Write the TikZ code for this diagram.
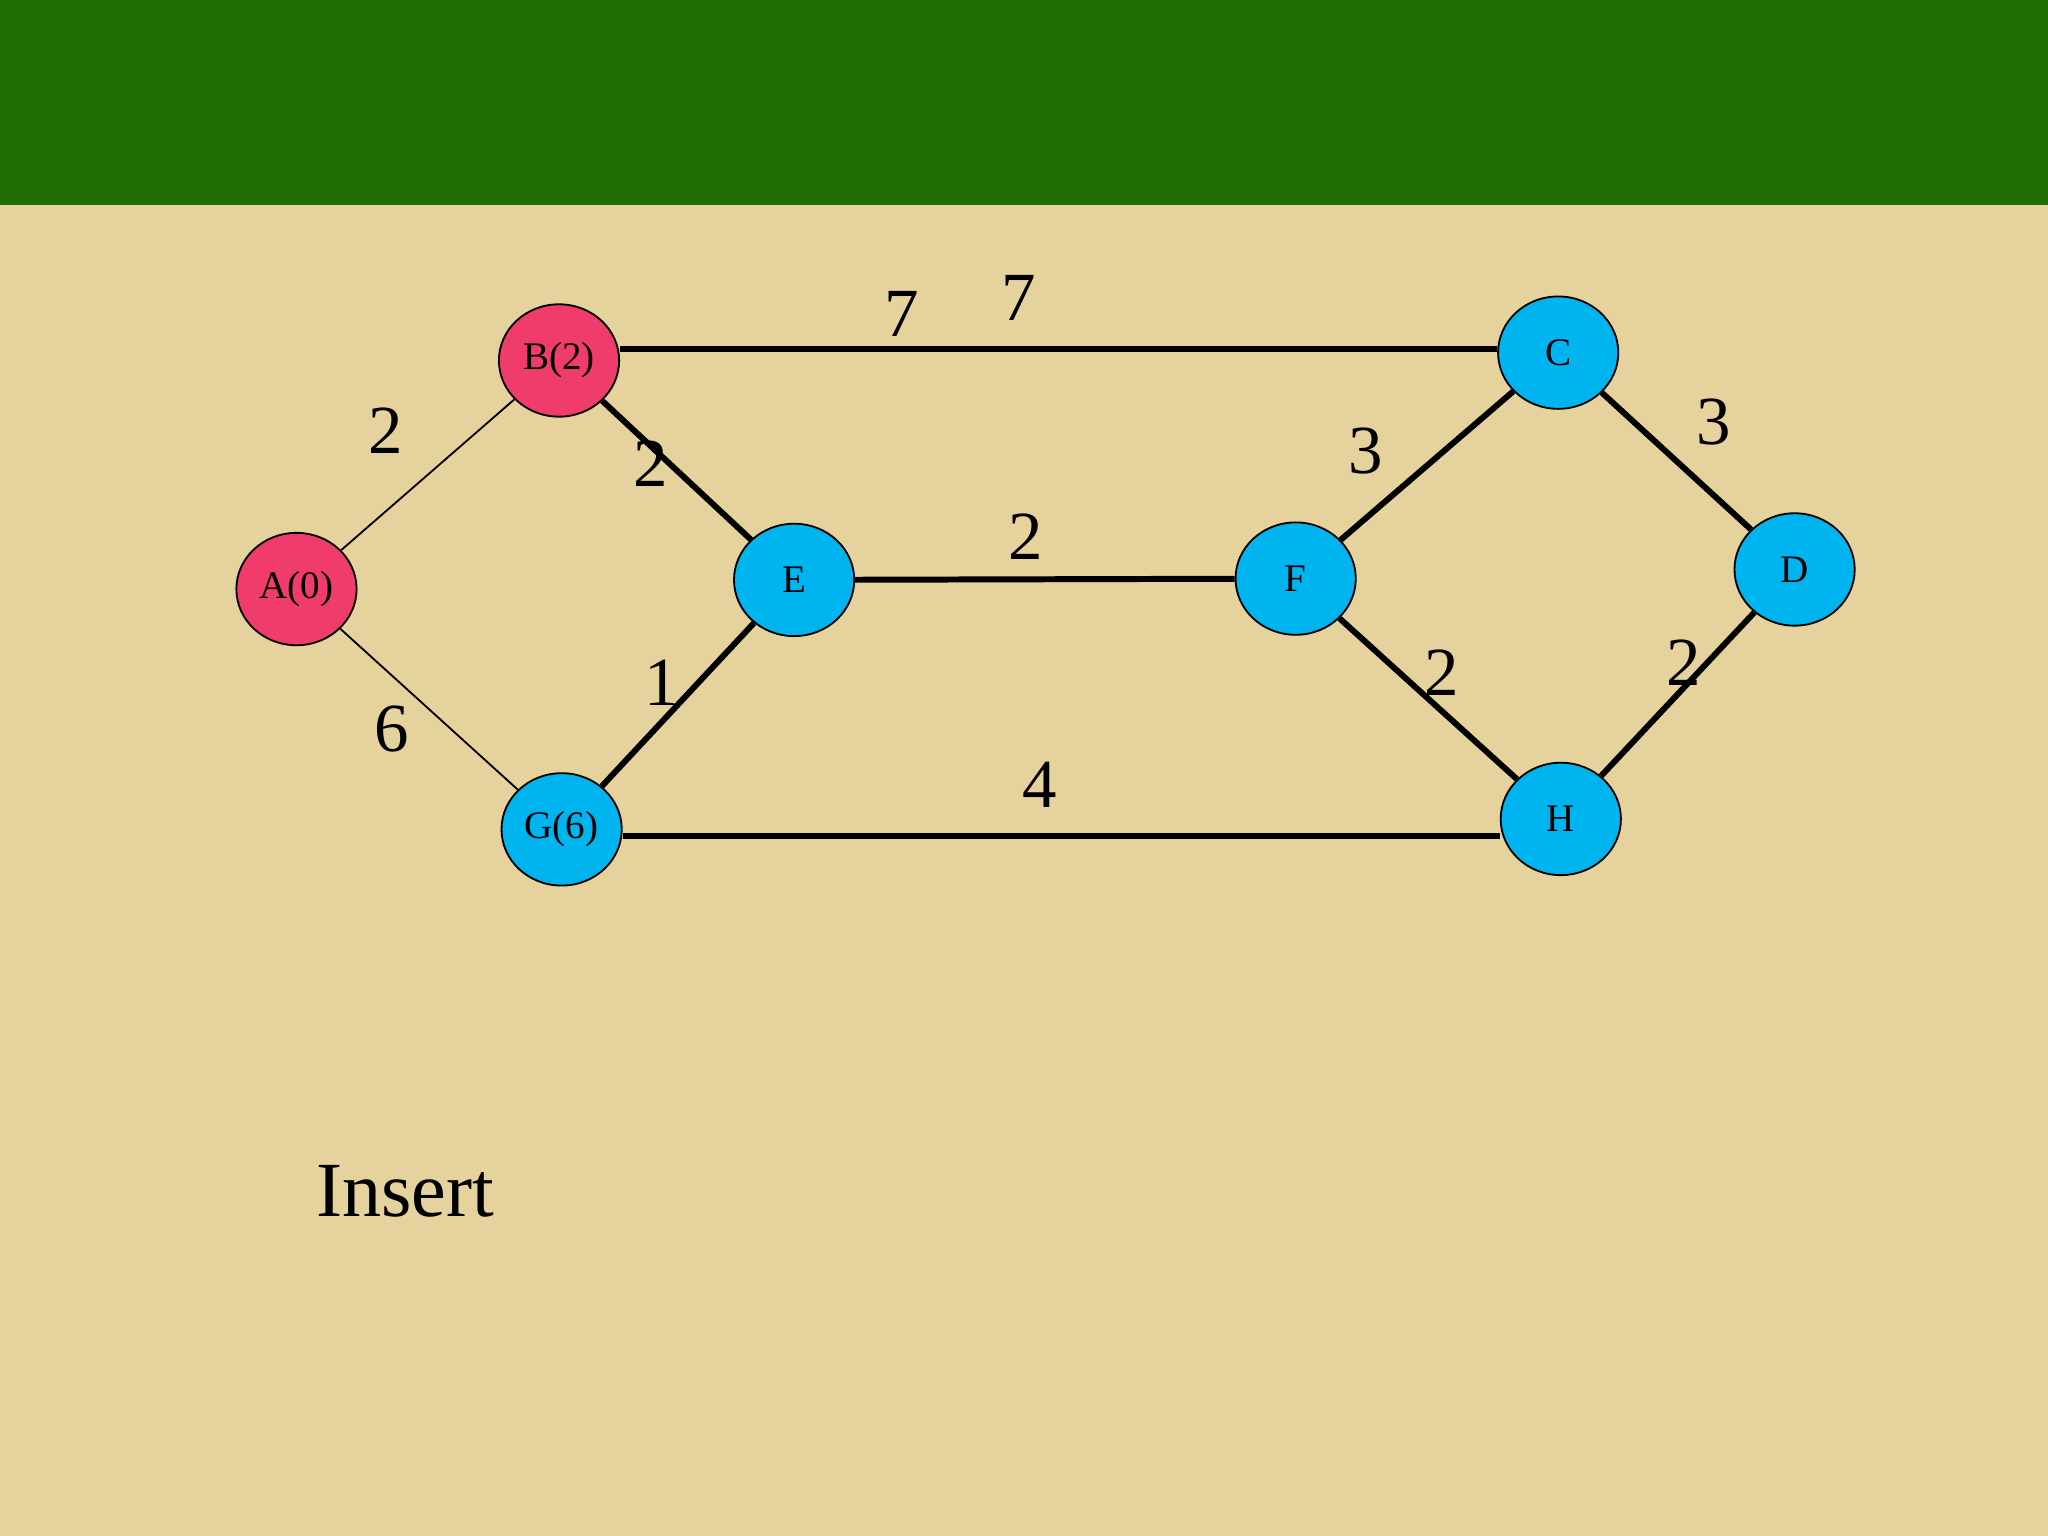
\documentclass[tikz,border=0pt]{standalone}
\usepackage{fontspec}
\setmainfont{Liberation Serif}
\usetikzlibrary{shapes.geometric}
\definecolor{bg}{HTML}{E6D29C}
\definecolor{band}{HTML}{206E03}
\definecolor{pinkn}{HTML}{F03C6A}
\definecolor{bluen}{HTML}{00B4F0}
\begin{document}
\begin{tikzpicture}[x=0.01cm,y=-0.01cm,
  vtx/.style={ellipse,draw=black,thin,minimum width=92\pgflinewidth*0+0.92cm,minimum height=0.86cm,inner sep=0pt,font=\fontsize{8.5pt}{10pt}\selectfont},
  red/.style={vtx,fill=pinkn},
  blu/.style={vtx,fill=bluen},
  edg/.style={line width=1.3pt,black},
  redg/.style={line width=1.3pt,red},
  wt/.style={font=\fontsize{15pt}{17pt}\selectfont}]
\fill[bg] (0,0) rectangle (1568,1176);
\fill[band] (0,0) rectangle (1568,157);
\node[red] (A) at (227,451) {A(0)};
\node[red] (B) at (428,276) {B(2)};
\node[blu] (E) at (608,444) {E};
\node[blu] (G) at (430,635) {G(6)};
\node[blu] (C) at (1193,270) {C};
\node[blu] (F) at (992,443) {F};
\node[blu] (D) at (1374,436) {D};
\node[blu] (H) at (1195,627) {H};
\draw[redg] (A) -- (B);
\draw[redg] (A) -- (G);
\draw[edg] (B.east) ++(0,-9) coordinate (b1) -- (b1 -| C.west);
\draw[edg] (B) -- (E);
\draw[edg] (G) -- (E);
\draw[edg] (E) -- (F);
\draw[edg] (G.east) ++(0,5) coordinate (g1) -- (g1 -| H.west);
\draw[edg] (F) -- (C);
\draw[edg] (F) -- (H);
\draw[edg] (C) -- (D);
\draw[edg] (H) -- (D);
\node[wt] (w1) at (295,330) {2};
\node[wt] (w2) at (300,558) {6};
\node[wt] (w3) at (690,240) {7};
\node[wt] (w4) at (780,228) {7};
\node[wt] (w5) at (498,355) {2};
\node[wt] (w6) at (507,523) {1};
\node[wt] (w7) at (785,411) {2};
\node[wt] (w8) at (796,601) {4};
\node[wt] (w9) at (1046,345) {3};
\node[wt] (w10) at (1312,323) {3};
\node[wt] (w11) at (1104,515) {2};
\node[wt] (w12) at (1289,507) {2};
\node[font=\fontsize{17pt}{20pt}\selectfont] (ins) at (310,912) {Insert};
\end{tikzpicture}
\end{document}
